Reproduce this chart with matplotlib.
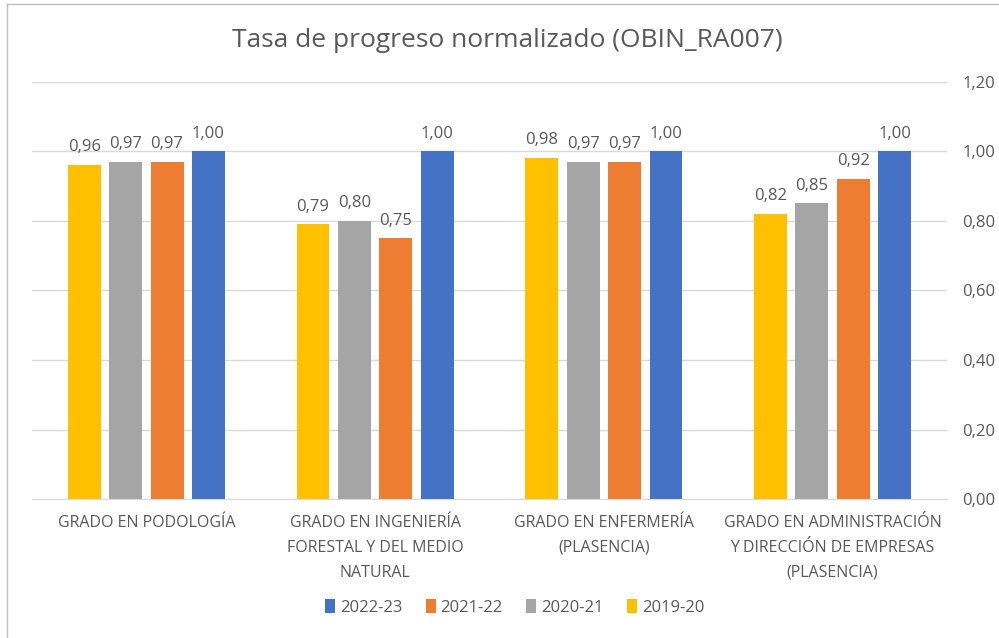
import matplotlib
matplotlib.use("Agg")
import matplotlib.pyplot as plt
from matplotlib.lines import Line2D
import numpy as np

categories = ["GRADO EN PODOLOGÍA",
              "GRADO EN INGENIERÍA\nFORESTAL Y DEL MEDIO\nNATURAL",
              "GRADO EN ENFERMERÍA\n(PLASENCIA)",
              "GRADO EN ADMINISTRACIÓN\nY DIRECCIÓN DE EMPRESAS\n(PLASENCIA)"]
series_names = ["2019-20", "2020-21", "2021-22", "2022-23"]
v_2019_20 = [0.96, 0.79, 0.98, 0.82]
v_2020_21 = [0.97, 0.80, 0.97, 0.85]
v_2021_22 = [0.97, 0.75, 0.97, 0.92]
v_2022_23 = [1.00, 1.00, 1.00, 1.00]
yticks = [0.0, 0.2, 0.4, 0.6, 0.8, 1.0, 1.2]

colors = {"2019-20": "#FFC000", "2020-21": "#A5A5A5",
          "2021-22": "#ED7D31", "2022-23": "#4472C4"}
values = {"2019-20": v_2019_20, "2020-21": v_2020_21,
          "2021-22": v_2021_22, "2022-23": v_2022_23}

plt.rcParams['font.family'] = ['Open Sans', 'DejaVu Sans']
txt = "#595959"

fig = plt.figure(figsize=(9.99, 6.38), dpi=100)
ax = fig.add_axes([0.032, 0.2175, 0.916, 0.6545])

x = np.arange(len(categories))
width = 0.144
step = 0.181
for i, s in enumerate(series_names):
    pos = x + (i - 1.5) * step
    bars = ax.bar(pos, values[s], width, color=colors[s], zorder=3, label=s)
    for b, v in zip(bars, values[s]):
        ax.annotate(f"{v:.2f}".replace(".", ","), (b.get_x() + b.get_width() / 2, v),
                    xytext=(0, 7), textcoords="offset points", ha="center", va="bottom",
                    fontsize=12, color=txt)

ax.set_xlim(-0.5, len(categories) - 0.5)
ax.set_ylim(0, 1.2)
ax.set_yticks(yticks)
ax.set_yticklabels([f"{t:.2f}".replace(".", ",") for t in yticks], fontsize=12, color=txt)
ax.yaxis.tick_right()
ax.tick_params(axis="y", length=0, pad=11)
ax.set_xticks(x)
ax.set_xticklabels(categories, fontsize=11.5, color=txt, linespacing=1.75)
ax.tick_params(axis="x", length=0, pad=11)
ax.grid(axis="y", color="#D9D9D9", linewidth=1, zorder=0)
for sp in ["top", "right", "left"]:
    ax.spines[sp].set_visible(False)
ax.spines["bottom"].set_color("#D9D9D9")
ax.spines["bottom"].set_zorder(4)

fig.text(0.508, 0.937, "Tasa de progreso normalizado (OBIN_RA007)", ha="center", va="center",
         fontsize=19, color=txt)

handles, labels = ax.get_legend_handles_labels()
order = [3, 2, 1, 0]
leg = fig.legend([handles[i] for i in order], [labels[i] for i in order],
                 loc="center", bbox_to_anchor=(0.515, 0.048), ncol=4, frameon=False,
                 fontsize=12, handlelength=0.6, handleheight=0.9, handletextpad=0.3,
                 columnspacing=1.4, labelcolor=txt)

fig.add_artist(Line2D([7/999, 7/999], [0, 1 - 4/638], transform=fig.transFigure,
                      color="#BFBFBF", linewidth=1))
fig.add_artist(Line2D([7/999, 1], [1 - 4/638, 1 - 4/638], transform=fig.transFigure,
                      color="#BFBFBF", linewidth=1))

fig.savefig("out.png", dpi=100)
